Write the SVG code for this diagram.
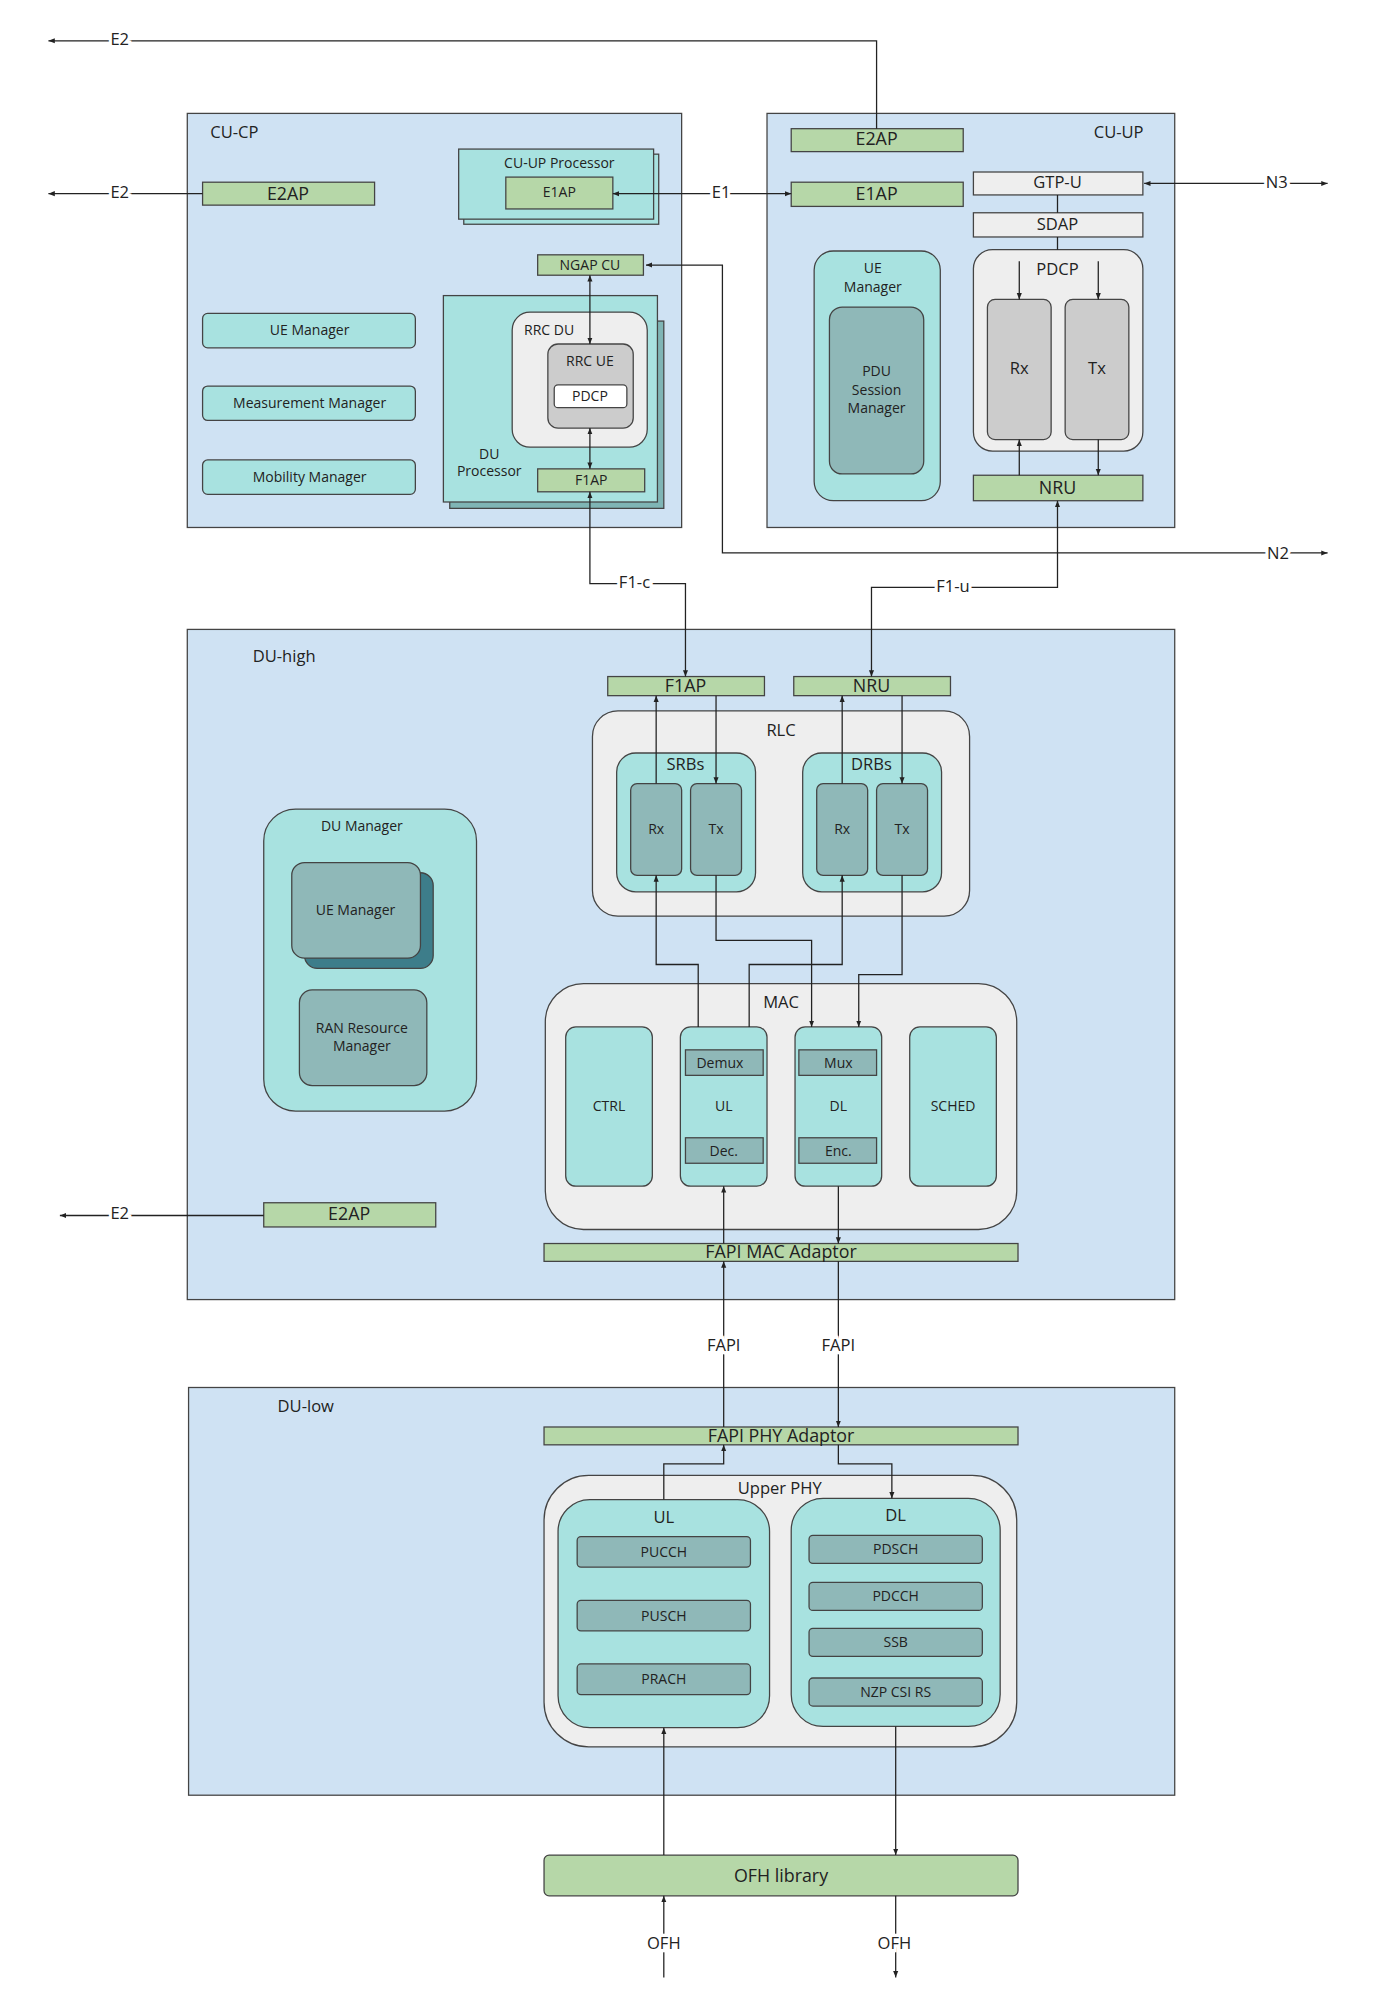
<svg xmlns="http://www.w3.org/2000/svg" width="1376" height="1999" viewBox="0 0 1376 1999">
<defs>
<marker id="a" viewBox="0 0 10 10" refX="10" refY="5" markerWidth="5" markerHeight="5" orient="auto-start-reverse"><path d="M0,1 L10,5 L0,9 z" fill="#222"/></marker>
<style>
text{font-family:"Open Sans","Noto Sans",sans-serif;fill:#222;text-anchor:middle;dominant-baseline:middle}
.s{font-size:11px}.m{font-size:13px}.l{font-size:14px}
.t{text-anchor:start}
.pan{fill:#cfe2f3;stroke:#444;stroke-width:1}
.g{fill:#b6d7a8;stroke:#444;stroke-width:1}
.c{fill:#a8e2e0;stroke:#444;stroke-width:1}
.d{fill:#8fb8b8;stroke:#444;stroke-width:1}
.w{fill:#eeeeee;stroke:#444;stroke-width:1}
.k{fill:#cccccc;stroke:#444;stroke-width:1}
.ln{fill:none;stroke:#222;stroke-width:1}
.lb{paint-order:stroke;stroke:#fff;stroke-width:5px}
</style>
</defs>
<rect width="1376" height="1999" fill="#fff"/>
<g transform="scale(1.2741)">
<g id="cucp">
<rect class="pan" x="147" y="89" width="388" height="325"/>
<text class="m t" x="165" y="105">CU-CP</text>
</g>
<g id="cuup">
<rect class="pan" x="602" y="89" width="320" height="325"/>
<text class="m" x="878" y="105">CU-UP</text>
</g>
<g id="duhigh">
<rect class="pan" x="147" y="494" width="775" height="526"/>
<text class="m" x="223" y="516">DU-high</text>
</g>
<g id="dulow">
<rect class="pan" x="148" y="1089" width="774" height="320"/>
<text class="m" x="240" y="1105">DU-low</text>
</g>

<g id="cuup-e2ap"><rect class="g" x="621" y="101" width="135" height="18"/><text class="l" x="688" y="110">E2AP</text></g>
<g id="cuup-e1ap"><rect class="g" x="621" y="143" width="135" height="19"/><text class="l" x="688" y="153">E1AP</text></g>
<g id="gtpu"><rect class="w" x="764" y="135" width="133" height="18"/><text class="m" x="830" y="144">GTP-U</text></g>
<g id="sdap"><rect class="w" x="764" y="167" width="133" height="19"/><text class="m" x="830" y="177">SDAP</text></g>
<g id="cuup-pdcp"><rect class="w" x="764" y="196" width="133" height="158" rx="15"/><text class="m" x="830" y="212">PDCP</text>
<rect class="k" x="775" y="235" width="50" height="110" rx="6"/><text class="m" x="800" y="290">Rx</text>
<rect class="k" x="836" y="235" width="50" height="110" rx="6"/><text class="m" x="861" y="290">Tx</text></g>
<g id="cuup-nru"><rect class="g" x="764" y="373" width="133" height="20"/><text class="l" x="830" y="384">NRU</text></g>
<g id="cuup-uemgr"><rect class="c" x="639" y="197" width="99" height="196" rx="15"/><text class="s" x="685" y="211">UE</text><text class="s" x="685" y="226">Manager</text>
<rect class="d" x="651" y="241" width="74" height="131" rx="10"/><text class="s" x="688" y="292">PDU</text><text class="s" x="688" y="307">Session</text><text class="s" x="688" y="321">Manager</text></g>

<g id="cucp-e2ap"><rect class="g" x="159" y="143" width="135" height="18"/><text class="l" x="226" y="153">E2AP</text></g>
<g id="cuupproc"><rect class="c" x="364" y="121" width="153" height="55"/><rect class="c" x="360" y="117" width="153" height="55"/><text class="s" x="439" y="129">CU-UP Processor</text>
<rect class="g" x="397" y="139" width="84" height="25"/><text class="s" x="439" y="152">E1AP</text></g>
<g id="ngap"><rect class="g" x="422" y="200" width="83" height="16"/><text class="s" x="463" y="209">NGAP CU</text></g>
<g id="duproc"><rect class="c" x="353" y="252" width="168" height="147" style="fill:#7fb5b5"/><rect class="c" x="348" y="232" width="168" height="162"/>
<rect class="w" x="402" y="245" width="106" height="106" rx="14"/><text class="s" x="431" y="260">RRC DU</text>
<rect class="k" x="430" y="270" width="67" height="66" rx="8"/><text class="s" x="463" y="284">RRC UE</text>
<rect x="435" y="302" width="57" height="18" rx="3" fill="#fff" stroke="#444"/><text class="s" x="463" y="312">PDCP</text>
<text class="s" x="384" y="357">DU</text><text class="s" x="384" y="371">Processor</text>
<rect class="g" x="422" y="368" width="84" height="18"/><text class="s" x="464" y="378">F1AP</text></g>
<g id="uemgr"><rect class="c" x="159" y="246" width="167" height="27" rx="4"/><text class="s" x="243" y="260">UE Manager</text></g>
<g id="measmgr"><rect class="c" x="159" y="303" width="167" height="27" rx="4"/><text class="s" x="243" y="317">Measurement Manager</text></g>
<g id="mobmgr"><rect class="c" x="159" y="361" width="167" height="27" rx="4"/><text class="s" x="243" y="375">Mobility Manager</text></g>

<g id="du-f1ap"><rect class="g" x="477" y="531" width="123" height="15"/><text class="l" x="538" y="539">F1AP</text></g>
<g id="du-nru"><rect class="g" x="623" y="531" width="123" height="15"/><text class="l" x="684" y="539">NRU</text></g>
<g id="rlc"><rect class="w" x="465" y="558" width="296" height="161" rx="20"/><text class="m" x="613" y="574">RLC</text>
<rect class="c" x="484" y="591" width="109" height="109" rx="15"/><text class="m" x="538" y="601">SRBs</text>
<rect class="d" x="495" y="615" width="40" height="72" rx="5"/><text class="s" x="515" y="652">Rx</text>
<rect class="d" x="542" y="615" width="40" height="72" rx="5"/><text class="s" x="562" y="652">Tx</text>
<rect class="c" x="630" y="591" width="109" height="109" rx="15"/><text class="m" x="684" y="601">DRBs</text>
<rect class="d" x="641" y="615" width="40" height="72" rx="5"/><text class="s" x="661" y="652">Rx</text>
<rect class="d" x="688" y="615" width="40" height="72" rx="5"/><text class="s" x="708" y="652">Tx</text></g>
<g id="mac"><rect class="w" x="428" y="772" width="370" height="193" rx="30"/><text class="m" x="613" y="788">MAC</text>
<rect class="c" x="444" y="806" width="68" height="125" rx="8"/><text class="s" x="478" y="869">CTRL</text>
<rect class="c" x="534" y="806" width="68" height="125" rx="8"/><text class="s" x="568" y="869">UL</text>
<rect class="d" x="538" y="824" width="61" height="20"/><text class="s" x="565" y="835">Demux</text>
<rect class="d" x="538" y="893" width="61" height="20"/><text class="s" x="568" y="904">Dec.</text>
<rect class="c" x="624" y="806" width="68" height="125" rx="8"/><text class="s" x="658" y="869">DL</text>
<rect class="d" x="627" y="824" width="61" height="20"/><text class="s" x="658" y="835">Mux</text>
<rect class="d" x="627" y="893" width="61" height="20"/><text class="s" x="658" y="904">Enc.</text>
<rect class="c" x="714" y="806" width="68" height="125" rx="8"/><text class="s" x="748" y="869">SCHED</text></g>
<g id="dumgr"><rect class="c" x="207" y="635" width="167" height="237" rx="25"/><text class="s" x="284" y="649">DU Manager</text>
<rect x="239" y="685" width="101" height="75" rx="10" fill="#3d7d8a" stroke="#444"/>
<rect class="d" x="229" y="677" width="101" height="75" rx="10"/><text class="s" x="279" y="715">UE Manager</text>
<rect class="d" x="235" y="777" width="100" height="75" rx="10"/><text class="s" x="284" y="808">RAN Resource</text><text class="s" x="284" y="822">Manager</text></g>
<g id="du-e2ap"><rect class="g" x="207" y="944" width="135" height="19"/><text class="l" x="274" y="954">E2AP</text></g>
<g id="fapimac"><rect class="g" x="427" y="976" width="372" height="14"/><text class="l" x="613" y="984">FAPI MAC Adaptor</text></g>

<g id="fapiphy"><rect class="g" x="427" y="1120" width="372" height="14"/><text class="l" x="613" y="1128">FAPI PHY Adaptor</text></g>
<g id="upperphy"><rect class="w" x="427" y="1158" width="371" height="213" rx="35"/><text class="m" x="612" y="1169">Upper PHY</text>
<rect class="c" x="438" y="1177" width="166" height="179" rx="25"/><text class="m" x="521" y="1192">UL</text>
<rect class="d" x="453" y="1206" width="136" height="24" rx="3"/><text class="s" x="521" y="1219">PUCCH</text>
<rect class="d" x="453" y="1256" width="136" height="24" rx="3"/><text class="s" x="521" y="1269">PUSCH</text>
<rect class="d" x="453" y="1306" width="136" height="24" rx="3"/><text class="s" x="521" y="1319">PRACH</text>
<rect class="c" x="621" y="1176" width="164" height="179" rx="25"/><text class="m" x="703" y="1190">DL</text>
<rect class="d" x="635" y="1205" width="136" height="22" rx="3"/><text class="s" x="703" y="1217">PDSCH</text>
<rect class="d" x="635" y="1242" width="136" height="22" rx="3"/><text class="s" x="703" y="1254">PDCCH</text>
<rect class="d" x="635" y="1278" width="136" height="22" rx="3"/><text class="s" x="703" y="1290">SSB</text>
<rect class="d" x="635" y="1317" width="136" height="22" rx="3"/><text class="s" x="703" y="1329">NZP CSI RS</text></g>
<g id="ofh"><rect class="g" x="427" y="1456" width="372" height="32" rx="4"/><text class="l" x="613" y="1473">OFH library</text></g>

<g id="connectors">
<path class="ln" d="M688,101 V32 H38" marker-end="url(#a)"/>
<path class="ln" d="M159,152 H38" marker-end="url(#a)"/>
<path class="ln" d="M207,954 H47" marker-end="url(#a)"/>
<path class="ln" d="M481,152 H621" marker-start="url(#a)" marker-end="url(#a)"/>
<path class="ln" d="M898,144 H1042" marker-start="url(#a)" marker-end="url(#a)"/>
<path class="ln" d="M507,208 H567 V434 H1042" marker-start="url(#a)" marker-end="url(#a)"/>
<path class="ln" d="M830,153 V167 M830,186 V196"/>
<path class="ln" d="M800,235 V205" marker-start="url(#a)"/>
<path class="ln" d="M862,205 V235" marker-end="url(#a)"/>
<path class="ln" d="M800,373 V345" marker-end="url(#a)"/>
<path class="ln" d="M862,345 V373" marker-end="url(#a)"/>
<path class="ln" d="M830,393 V461 H684 V531" marker-start="url(#a)" marker-end="url(#a)"/>
<path class="ln" d="M463,216 V270" marker-start="url(#a)" marker-end="url(#a)"/>
<path class="ln" d="M463,336 V368" marker-start="url(#a)" marker-end="url(#a)"/>
<path class="ln" d="M463,386 V458 H538 V531" marker-start="url(#a)" marker-end="url(#a)"/>
<path class="ln" d="M515,615 V546" marker-end="url(#a)"/>
<path class="ln" d="M562,546 V615" marker-end="url(#a)"/>
<path class="ln" d="M661,615 V546" marker-end="url(#a)"/>
<path class="ln" d="M708,546 V615" marker-end="url(#a)"/>
<path class="ln" d="M548,806 V757 H515 V687" marker-end="url(#a)"/>
<path class="ln" d="M588,806 V757 H661 V687" marker-end="url(#a)"/>
<path class="ln" d="M562,687 V738 H637 V806" marker-end="url(#a)"/>
<path class="ln" d="M708,687 V765 H674 V806" marker-end="url(#a)"/>
<path class="ln" d="M568,976 V931" marker-end="url(#a)"/>
<path class="ln" d="M658,931 V976" marker-end="url(#a)"/>
<path class="ln" d="M568,1120 V990" marker-end="url(#a)"/>
<path class="ln" d="M658,990 V1120" marker-end="url(#a)"/>
<path class="ln" d="M521,1177 V1149 H568 V1134" marker-end="url(#a)"/>
<path class="ln" d="M658,1134 V1149 H700 V1176" marker-end="url(#a)"/>
<path class="ln" d="M521,1456 V1356" marker-end="url(#a)"/>
<path class="ln" d="M703,1355 V1456" marker-end="url(#a)"/>
<path class="ln" d="M521,1552 V1488" marker-end="url(#a)"/>
<path class="ln" d="M703,1488 V1552" marker-end="url(#a)"/>
<text class="m lb" x="94" y="32">E2</text>
<text class="m lb" x="94" y="152">E2</text>
<text class="m lb" x="94" y="953">E2</text>
<text class="m lb" x="566" y="152">E1</text>
<text class="m lb" x="1002" y="144">N3</text>
<text class="m lb" x="1003" y="435">N2</text>
<text class="m lb" x="498" y="458">F1-c</text>
<text class="m lb" x="748" y="461">F1-u</text>
<text class="m lb" x="568" y="1057">FAPI</text>
<text class="m lb" x="658" y="1057">FAPI</text>
<text class="m lb" x="521" y="1526">OFH</text>
<text class="m lb" x="702" y="1526">OFH</text>
</g>
</g>
</svg>
